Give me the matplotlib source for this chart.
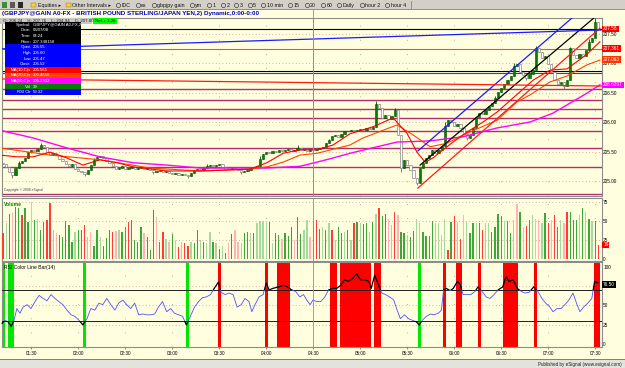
#!/usr/bin/env python3
"""
GBPJPY 2-minute chart in the eSignal look: candles with MA(10/20/50), trend
lines and levels, a volume pane and an RSI(14) pane with red/green colour bars.
All values are read off the reference screenshot.
"""
import numpy as np
import matplotlib
matplotlib.use("Agg")
import matplotlib.pyplot as plt
from matplotlib.patches import Rectangle
from matplotlib.lines import Line2D

W, H = 625, 368
BG = "#ffffe0"
GRID = "#c89696"
plt.rcParams["font.family"] = ["Liberation Sans", "DejaVu Sans"]

# ---- text -----------------------------------------------------------------
TITLE = "(GBPJPY@GAIN A0-FX - BRITISH POUND STERLING/JAPAN YEN,2) Dynamic,0:00-0:00"
OHLC = "O: 206.24    H: 207.76    L: 204.94    C: 207.80"
NET = "Net + 1.26"
TOOLBAR = ["Equities \u25b8", "Other Intervals \u25b8", "IDC", "es", "gbpjpy gain", "ym",
           "1", "2", "3", "5", "10 min", "15", "20", "60", "Daily", "hour 2", "hour 4"]
DATA_WINDOW = [("#000000", "Symbol:", "GBPJPY@GAIN A0-FX,2"),
               ("#000000", "Date:", "03/07/08"),
               ("#000000", "Time:", "04:24"),
               ("#000000", "Price:", "207.348158"),
               ("#0000ff", "Open", "205.55"),
               ("#0000ff", "High", "205.60"),
               ("#0000ff", "Low", "205.47"),
               ("#0000ff", "Close", "205.52"),
               ("#ff0000", "MA(10,C)s", "205.565"),
               ("#ff4400", "MA(20,C)s", "205.4658"),
               ("#ff00ff", "MA(50,C)s", "205.2912"),
               ("#008000", "Vol", "39"),
               ("#0000ff", "RSI Clr", "59.32")]

# ---- time axis --------------------------------------------------------------
first_bar = "01:12"
bar_minutes = 2
time_ticks = ["01:30", "02:00", "02:30", "03:00", "03:30", "04:00", "04:30",
              "05:00", "05:30", "06:00", "06:30", "07:00", "07:30"]
cursor_time = "04:30"

# ---- price bars (close of each 2-min bar) -----------------------------------
first_open = 205.31
closes = [205.29, 205.24, 205.15, 205.10, 205.22, 205.31, 205.34, 205.39, 205.49, 205.53,
          205.51, 205.54, 205.61, 205.58, 205.49, 205.44, 205.47, 205.44, 205.37, 205.34,
          205.29, 205.25, 205.29, 205.20, 205.17, 205.15, 205.12, 205.19, 205.27, 205.36,
          205.41, 205.42, 205.39, 205.34, 205.31, 205.25, 205.20, 205.22, 205.25, 205.20,
          205.22, 205.24, 205.20, 205.22, 205.24, 205.20, 205.22, 205.19, 205.15, 205.17,
          205.19, 205.15, 205.17, 205.14, 205.12, 205.14, 205.10, 205.12, 205.10, 205.08,
          205.14, 205.19, 205.20, 205.19, 205.22, 205.25, 205.27, 205.25, 205.27, 205.29,
          205.24, 205.20, 205.20, 205.22, 205.20, 205.19, 205.15, 205.17, 205.19, 205.22,
          205.24, 205.25, 205.37, 205.46, 205.49, 205.47, 205.51, 205.49, 205.53, 205.51,
          205.53, 205.54, 205.51, 205.53, 205.56, 205.53, 205.54, 205.51, 205.54, 205.53,
          205.54, 205.56, 205.58, 205.64, 205.69, 205.76, 205.78, 205.75, 205.80, 205.85,
          205.85, 205.86, 205.85, 205.86, 205.88, 205.86, 205.90, 205.88, 205.92, 206.31,
          206.24, 206.07, 206.12, 206.05, 206.10, 206.20, 205.78, 205.22, 205.36, 205.27,
          205.19, 205.05, 204.96, 205.22, 205.31, 205.39, 205.44, 205.53, 205.47, 205.53,
          205.59, 205.93, 206.03, 206.00, 205.93, 205.97, 205.90, 205.80, 205.73, 205.78,
          205.90, 206.08, 206.15, 206.14, 206.20, 206.27, 206.32, 206.41, 206.51, 206.58,
          206.64, 206.71, 206.78, 206.95, 206.98, 206.85, 206.80, 206.75, 206.81, 206.88,
          207.25, 207.19, 207.08, 207.12, 206.98, 206.85, 206.71, 206.64, 206.68, 206.61,
          206.71, 207.25, 207.14, 207.08, 207.15, 207.12, 207.22, 207.36, 207.42, 207.69,
          207.58]
bar_highs = {5: 205.34, 12: 205.64, 29: 205.39, 65: 205.29, 82: 205.42, 94: 205.61,
             104: 205.72, 119: 206.36, 125: 206.24, 141: 206.00, 157: 206.44, 163: 207.00,
             170: 207.29, 181: 207.27, 187: 207.40, 189: 207.76}
bar_lows = {3: 205.05, 26: 205.08, 48: 205.12, 59: 205.05, 76: 205.12, 127: 205.15,
            132: 204.94, 148: 205.70, 167: 206.72, 179: 206.56}

# ---- moving averages (sparse points) ---------------------------------------
ma10_pos = [-1.0, 4.5, 9.6, 15.0, 20.4, 25.5, 30.9, 36.4, 41.5, 52.3, 62.9, 73.4, 78.8,
            84.2, 89.4, 94.8, 100.2, 105.3, 110.7, 118.1, 124.5, 128.9, 132.1, 134.7,
            137.2, 139.5, 143.6, 149.0, 153.2, 157.7, 162.8, 169.2, 174.6, 180.0, 186.4, 190.5]
ma10_val = [205.44, 205.41, 205.41, 205.49, 205.39, 205.27, 205.36, 205.31, 205.24, 205.17,
            205.17, 205.19, 205.20, 205.31, 205.47, 205.53, 205.53, 205.61, 205.80, 205.92,
            206.07, 205.81, 205.49, 205.32, 205.39, 205.49, 205.66, 205.86, 206.00, 206.17,
            206.41, 206.71, 206.88, 206.90, 207.15, 207.36]
ma20_pos = [-1.0, 15.0, 30.9, 46.9, 62.9, 78.8, 84.2, 89.4, 94.8, 100.2, 110.7, 114.9,
            125.7, 130.9, 136.3, 141.7, 146.8, 157.7, 164.0, 168.2, 174.6, 180.0, 186.4, 190.5]
ma20_val = [205.56, 205.44, 205.36, 205.22, 205.17, 205.20, 205.24, 205.32, 205.44, 205.47,
            205.61, 205.73, 205.95, 205.78, 205.58, 205.64, 205.78, 206.03, 206.34, 206.46,
            206.68, 206.78, 206.97, 207.05]
ma50_pos = [-1.0, 9.6, 20.4, 30.9, 41.5, 52.3, 62.9, 73.4, 84.2, 94.8, 100.2, 105.3,
            110.7, 125.7, 136.3, 146.8, 157.7, 168.2, 175.5, 186.4, 190.5]
ma50_val = [205.86, 205.73, 205.56, 205.41, 205.31, 205.27, 205.22, 205.22, 205.22, 205.25,
            205.32, 205.39, 205.47, 205.66, 205.68, 205.75, 205.90, 206.00, 206.15, 206.49,
            206.63]

# ---- drawn lines and levels ---------------------------------------------------
trend_lines = [  # (bar0, price0, bar1, price1, colour)
    (132.4, 205.51, 182.6, 207.81, "#1a1aff"),
    (133.1, 205.27, 189.6, 207.81, "#000000"),
    (132.4, 204.88, 190.5, 207.59, "#ff1a1a"),
    (-1.0, 207.24, 190.9, 207.56, "#1a1aff"),
    (-1.0, 206.73, 190.9, 206.61, "#ff1a1a"),
]
flat_levels = [(207.58, "#000000"), (207.24, "#e85050"), (206.86, "#000000"), (206.83, "#3030ff")]
pink_levels = [206.56, 206.37, 206.22, 206.07, 205.85, 205.56, 205.24, 204.78]
price_ticks = [205.0, 205.5, 206.0, 206.5, 207.0, 207.5]
price_tags = [(207.58, "207.58", "#ff0000", 0), (207.361, "207.361", "#ff0000", -5),
              (207.063, "207.063", "#ff3300", 0), (206.6297, "206.6297", "#ff00ff", 0)]

# ---- volume ------------------------------------------------------------------
volume = [34, 47, 59, 61, 68, 67, 58, 67, 49, 75, 51, 53, 39, 49, 51, 73, 39, 34, 32, 29,
          50, 45, 23, 36, 38, 39, 45, 29, 36, 18, 38, 29, 18, 28, 38, 36, 37, 38, 36, 42,
          49, 52, 25, 23, 42, 34, 29, 12, 64, 55, 23, 36, 26, 23, 33, 25, 16, 23, 22, 17,
          23, 22, 39, 25, 23, 22, 36, 23, 21, 14, 18, 8, 22, 33, 38, 23, 21, 35, 36, 34,
          35, 47, 50, 50, 49, 49, 21, 34, 32, 27, 34, 30, 42, 25, 55, 33, 38, 51, 29, 49,
          52, 40, 42, 39, 48, 39, 25, 42, 35, 36, 38, 25, 47, 49, 47, 46, 47, 36, 49, 59,
          67, 57, 59, 53, 45, 62, 58, 36, 35, 32, 29, 37, 53, 47, 36, 30, 30, 50, 47, 47,
          32, 53, 12, 49, 57, 49, 26, 58, 50, 35, 47, 47, 47, 38, 48, 47, 36, 42, 59, 56,
          50, 50, 35, 51, 72, 62, 42, 43, 52, 58, 53, 52, 47, 60, 47, 52, 58, 42, 52, 47,
          62, 62, 52, 51, 58, 67, 62, 53, 50, 50, 19]
vol_kind = ("RgRrGGRGGr" "GgGGRRgrRG" "RGGgGRRgrG" "GgRGRRrgGG" "RRGRGrRGRr"
            "GRgrGrRgRR" "gGRgGggGgR" "gRrRrrgGGg" "GggggRgRGr" "GGRrRGggrG"
            "RGgGgRgGGg" "GgRGgRGgGg" "RGRrgRrGGg" "GRggGGGGgg" "rgRGRgRrgG"
            "GgGRggGGGG" "gGGgrGrRGg" "rrgGRrRGgr" "RGRGgGgGgG" "R")
VOL_COLOURS = {"G": "#3aa83a", "g": "#a6d9a0", "R": "#ff3b3b", "r": "#ffb3b3"}

# ---- RSI(14) -----------------------------------------------------------------
rsi_pos = [-0.3, 0.6, 1.6, 2.6, 3.5, 4.4, 5.4, 6.4, 7.7, 8.9, 10.2, 11.5, 12.8, 14.0,
           15.3, 16.6, 17.8, 19.1, 20.4, 21.7, 22.9, 24.2, 25.5, 26.8, 28.0, 29.3, 30.6,
           31.8, 33.1, 34.4, 35.7, 36.9, 38.2, 39.5, 40.7, 42.0, 43.3, 44.6, 45.8, 47.1,
           48.4, 49.6, 50.9, 52.2, 53.5, 54.7, 56.0, 57.3, 58.5, 59.8, 61.1, 62.4, 63.6,
           64.9, 66.2, 67.4, 68.7, 69.6, 70.9, 72.1, 73.4, 74.7, 76.0, 77.2, 78.5, 79.4,
           80.4, 81.7, 83.0, 84.0, 84.9, 86.1, 88.0, 89.6, 90.8, 92.1, 93.4, 94.7, 95.9,
           96.9, 98.0, 98.9, 100.1, 101.4, 102.7, 103.9, 105.2, 106.5, 107.8, 109.0,
           110.3, 111.6, 112.8, 114.1, 115.4, 116.7, 117.5, 118.6, 119.6, 120.9, 122.1,
           123.4, 124.7, 125.6, 126.8, 128.1, 129.4, 130.6, 131.9, 132.8, 133.8, 135.1,
           136.4, 137.6, 138.9, 139.9, 140.6, 141.5, 142.7, 143.7, 145.0, 145.9, 146.8,
           148.1, 149.3, 150.6, 151.6, 152.9, 154.2, 155.4, 156.7, 158.0, 159.5, 160.5,
           161.5, 162.8, 164.1, 165.4, 166.6, 167.9, 169.4, 170.7, 172.0, 173.2, 174.5,
           175.5, 176.8, 178.1, 179.3, 180.6, 181.9, 183.2, 184.1, 185.3, 186.6, 187.9,
           188.8, 189.8]
rsi_val = [27, 31, 29, 23, 31, 46, 40, 48, 51, 46, 55, 63, 59, 56, 64, 59, 55, 51, 44, 38,
           36, 31, 25, 33, 46, 44, 53, 51, 59, 51, 44, 53, 57, 51, 46, 53, 38, 39, 38, 38,
           39, 48, 55, 42, 46, 40, 38, 36, 25, 36, 48, 55, 60, 61, 64, 72, 80, 67, 64, 66,
           64, 48, 51, 59, 55, 42, 51, 61, 64, 79, 70, 72, 74, 76, 74, 70, 68, 61, 64, 57,
           51, 57, 55, 55, 61, 70, 72, 72, 76, 83, 81, 85, 91, 83, 83, 81, 72, 89, 79, 66,
           64, 61, 57, 46, 33, 38, 33, 31, 29, 25, 31, 36, 39, 38, 40, 44, 70, 72, 69, 72,
           81, 77, 64, 64, 64, 68, 74, 68, 61, 59, 64, 70, 74, 87, 81, 83, 72, 68, 66, 67,
           74, 68, 59, 53, 48, 42, 46, 46, 51, 57, 66, 51, 42, 48, 53, 59, 81, 79]
rsi_ticks = [0, 25, 50, 100]          # the 75 label sits under the value tag
rsi_tag = "76.50"
rsi_overbought = [(69, 69), (84, 84), (88, 91), (105, 106), (108, 117), (119, 120),
                  (141, 141), (145, 146), (152, 152), (160, 164), (170, 170), (189, 190)]
rsi_oversold = [(0, 0), (2, 3), (26, 26), (59, 59), (133, 133)]


def minutes(t):
    h, m = t.split(":")
    return int(h) * 60 + int(m)


def bar_at(t):
    return (minutes(t) - minutes(first_bar)) / bar_minutes


def box(x0, y0, x1, y1):          # pixel box (top-left origin) -> figure rect
    return [x0 / W, 1 - y1 / H, (x1 - x0) / W, (y1 - y0) / H]


def fpt(x, y):
    return x / W, 1 - y / H


def frect(x0, y0, x1, y1, fc, ec="none", lw=0.0):
    fig.patches.append(Rectangle(fpt(x0, y1), (x1 - x0) / W, (y1 - y0) / H, facecolor=fc,
                                 edgecolor=ec, lw=lw, transform=fig.transFigure))


def right_tag(ax, y, text, colour, dy=0, tc="white"):
    ax.annotate(text, (1.0, y), xycoords=ax.get_yaxis_transform(), xytext=(1.2, dy),
                textcoords="offset points", fontsize=3.4, color=tc, va="center", ha="left",
                annotation_clip=False, zorder=8,
                bbox=dict(boxstyle="square,pad=0.15", fc=colour, ec="none"))


fig = plt.figure(figsize=(W / 100, H / 100), dpi=100, facecolor=BG)
XL, XR = 2, 601.5
ax_p = fig.add_axes(box(XL, 18, XR, 196))
ax_v = fig.add_axes(box(XL, 198, XR, 261))
ax_r = fig.add_axes(box(XL, 262, XR, 347))

n = len(closes)
x = np.arange(n)
ticks = [bar_at(t) for t in time_ticks]

for ax in (ax_p, ax_v, ax_r):
    ax.set_facecolor(BG)
    ax.set_xlim(-0.34, n)
    for s in ax.spines.values():
        s.set_color("#8c8c8c")
        s.set_linewidth(0.8)
    ax.yaxis.tick_right()
    ax.tick_params(axis="y", length=0, pad=1.2, labelsize=3.4)
    ax.tick_params(axis="x", length=0, labelbottom=False)
    for t in ticks:
        ax.axvline(t, color="#9a9a9a", lw=0.6, ls=(0, (1, 16)), zorder=1)
    ax.axvline(bar_at(cursor_time), color="#e86a6a", lw=0.6, zorder=6)

# ---- price pane ----
ax_p.set_ylim(204.746, 207.763)
ax_p.set_yticks(price_ticks, [f"{v:.2f}" for v in price_ticks])
for v in price_ticks:
    ax_p.axhline(v, color=GRID, lw=0.6, ls=(0, (1, 3)), zorder=1)
for v in pink_levels:
    ax_p.axhline(v, color="#b0306c", lw=1.0, zorder=2)
for v, col in flat_levels:
    ax_p.axhline(v, color=col, lw=0.8, zorder=2)

c = np.array(closes)
o = np.r_[first_open, c[:-1]]
hi = np.maximum(o, c)
lo = np.minimum(o, c)
for k, v in bar_highs.items():
    hi[k] = max(hi[k], v)
for k, v in bar_lows.items():
    lo[k] = min(lo[k], v)
up = c >= o
edge = np.where(up, "#004d00", "#6e6e6e")
ax_p.vlines(x, lo, hi, colors=edge, lw=0.6, zorder=3)
ax_p.bar(x, np.maximum(np.abs(c - o), 0.006), bottom=np.minimum(o, c), width=0.72,
         color=np.where(up, "#008000", "#ffffff"), edgecolor=edge, linewidth=0.4, zorder=3)

ax_p.plot(ma50_pos, ma50_val, color="#ff00ff", lw=1.0, zorder=4)
ax_p.plot(ma20_pos, ma20_val, color="#ff4400", lw=0.8, zorder=4)
ax_p.plot(ma10_pos, ma10_val, color="#ff0000", lw=0.8, zorder=4)
for k0, p0, k1, p1, col in trend_lines:
    ax_p.plot([k0, k1], [p0, p1], color=col, lw=0.9, zorder=5)
for v, text, col, dy in price_tags:
    right_tag(ax_p, v, text, col, dy)
ax_p.axvline(bar_at(cursor_time), ymax=1 + 9 / 178, color="#e86a6a", lw=0.6,
             clip_on=False, zorder=6)
ax_p.text(0.004, 0.02, "Copyright \u00a9 2008 eSignal", transform=ax_p.transAxes,
          fontsize=2.4, color="#404040", va="bottom")

# ---- volume pane ----
ax_v.set_ylim(-2, 80)
ax_v.set_yticks([0, 25, 50, 75])
for v in (25, 50, 75):
    ax_v.axhline(v, color=GRID, lw=0.6, ls=(0, (1, 3)), zorder=1)
ax_v.bar(x, volume, width=0.42, color=[VOL_COLOURS[k] for k in vol_kind], zorder=3)
right_tag(ax_v, volume[-1], str(volume[-1]), "#ff0000")
ax_v.text(0.003, 0.93, "Volume", transform=ax_v.transAxes, fontsize=3.6, color="#008000",
          va="top", weight="bold")

# ---- RSI pane ----
ax_r.set_ylim(-3.5, 106)
ax_r.set_yticks(rsi_ticks)
for a, b in rsi_overbought:
    ax_r.axvspan(a - 0.5, b + 0.5, color="#ff0000", lw=0, zorder=2)
for a, b in rsi_oversold:
    ax_r.axvspan(a - 0.5, b + 0.5, color="#00e600", lw=0, zorder=2)
for v in (25, 50, 75):
    ax_r.axhline(v, color=GRID, lw=0.6, ls=(0, (1, 3)), zorder=1)
for v in (30, 70):
    ax_r.axhline(v, color="#202020", lw=0.7, zorder=3)
for lo_, hi_, col, lw in [(30, 70, "#5050ff", 0.6), (70, 130, "#000000", 0.9),
                          (-20, 30, "#000000", 0.9)]:
    ln, = ax_r.plot(rsi_pos, rsi_val, color=col, lw=lw, zorder=4)
    ln.set_clip_path(Rectangle((-5, lo_), n + 10, hi_ - lo_, transform=ax_r.transData))
right_tag(ax_r, rsi_val[-1] - 2, rsi_tag, "#000000")
ax_r.text(0.003, 0.97, "RSI Color Line Bar(14)", transform=ax_r.transAxes, fontsize=3.6,
          color="black", va="top", zorder=7)
ax_r.set_xticks(ticks, time_ticks)
ax_r.tick_params(axis="x", length=1.5, width=0.5, color="#606060", labelbottom=True,
                 labelsize=3.3, pad=1.2)

# ---- chrome: toolbar, title, OHLC strip, data window, status bar ----
frect(0, 0, W, 9.5, "#d4d0c8")
frect(0, 9.2, W, 9.8, "#909090")
for i, col in enumerate(("#3c8c3c", "#5a5a5a", "#2a2a2a")):
    frect(2 + 8 * i, 2.5, 7 + 8 * i, 7.5, col)
renderer = fig.canvas.get_renderer()
cx = 31
for i, lab in enumerate(TOOLBAR):
    if i < 2:
        frect(cx, 3, cx + 5, 7, "#f2d04a", "#8a6d00", 0.3)
        cx += 6.5
    else:
        fig.add_artist(Line2D([fpt(cx + 2, 5)[0]], [fpt(cx + 2, 5)[1]], marker="o", ms=3.0,
                              mfc="none", mec="#202020", mew=0.4, transform=fig.transFigure))
        cx += 5.5
    t = fig.text(*fpt(cx, 5.1), lab, fontsize=3.8, va="center", ha="left", color="#101010")
    cx = t.get_window_extent(renderer).x1 + 5
frect(cx, 1, cx + 0.8, 8.5, "#909090")

fig.text(*fpt(2, 13.6), TITLE, color="#0000c8", fontsize=4.5, weight="bold", va="center")
frect(0, 17.5, 92, 24, "#c8c8c8")
fig.text(*fpt(3, 20.8), OHLC, fontsize=3.2, va="center", color="#202020")
frect(93, 17.5, 117, 24, "#00ff00")
fig.text(*fpt(95, 20.8), NET, fontsize=3.2, va="center", color="#000000")

row_h = (95 - 22) / len(DATA_WINDOW)
for i, (col, lab, val) in enumerate(DATA_WINDOW):
    y0 = 22 + i * row_h
    frect(5, y0, 81, y0 + row_h, col)
    fig.text(*fpt(31, y0 + row_h / 2), lab, fontsize=3.1, color="white", va="center", ha="right")
    fig.text(*fpt(33, y0 + row_h / 2), val, fontsize=3.1, color="white", va="center", ha="left")

frect(0, 359.5, W, H, "#e4e2dc")
frect(0, 359, W, 360, "#808080")
fig.text(*fpt(622, 364.2), "Published by eSignal (www.esignal.com)", fontsize=3.3,
         va="center", ha="right", color="#202020")

fig.savefig("out.png", dpi=100, facecolor=BG)
